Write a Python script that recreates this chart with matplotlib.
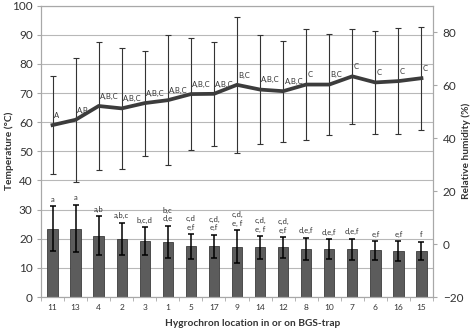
import matplotlib
matplotlib.use("Agg")
import matplotlib.pyplot as plt
import numpy as np

plt.rcParams['font.family'] = ['Lato', 'DejaVu Sans']

# hygrochron locations, ordered as in the figure
locations = ['11', '13', '4', '2', '3', '1', '5', '17', '9',
             '14', '12', '8', '10', '7', '6', '16', '15']

# temperature (bars, left axis)
temp_mean = [23.5, 23.5, 21.1, 19.9, 19.2, 19.0, 17.4, 17.4, 17.3,
             17.0, 17.0, 16.6, 16.4, 16.4, 16.0, 15.8, 15.8]
temp_sd = [7.7, 8.2, 6.7, 5.6, 4.8, 5.5, 4.2, 3.9, 5.6,
           3.9, 3.5, 3.8, 3.4, 3.6, 3.2, 3.4, 3.2]
temp_letters = ['a', 'a', 'a,b', 'a,b,c', 'b,c,d', 'b,c\nd,e', 'c,d\ne,f',
                'c,d,\ne,f', 'c,d,\ne, f', 'c,d,\ne, f', 'c,d,\ne,f',
                'd,e,f', 'd,e,f', 'd,e,f', 'e,f', 'e,f', 'f']

# relative humidity (line, right axis)
rh_mean = [44.9, 46.9, 52.1, 51.2, 53.2, 54.3, 56.6, 56.7, 60.1,
           58.3, 57.7, 60.2, 60.2, 63.3, 61.0, 61.5, 62.6]
rh_sd = [18.4, 23.4, 24.3, 22.8, 19.8, 24.5, 21.0, 19.6, 25.7,
         20.6, 19.1, 21.0, 19.1, 18.0, 19.3, 19.9, 19.5]
rh_letters = ['A', 'A,B', 'A,B,C', 'A,B,C', 'A,B,C', 'A,B,C', 'A,B,C',
              'A,B,C', 'B,C', 'A,B,C', 'A,B,C', 'C', 'B,C', 'C', 'C', 'C', 'C']

x = np.arange(len(locations))

fig, ax = plt.subplots(figsize=(4.74, 3.3), dpi=100)
fig.subplots_adjust(left=0.0865, right=0.9135, bottom=0.1, top=0.983)

gray_spine = '#a8a8a8'
txt = '#333333'

# bars
ax.bar(x, temp_mean, width=0.45, color='#5c5c5c', edgecolor='#3c3c3c',
       linewidth=0.6, zorder=2)
ax.errorbar(x, temp_mean, yerr=temp_sd, fmt='none', ecolor='black',
            elinewidth=1.1, capsize=2.5, capthick=1.1, zorder=3)
for xi, m, s, lab in zip(x, temp_mean, temp_sd, temp_letters):
    ax.annotate(lab, (xi, m + s), xytext=(0, 2.5), textcoords='offset points',
                ha='center', va='bottom', fontsize=5.5, color=txt,
                linespacing=1.25)

ax.set_xlim(-0.5, len(locations) - 0.5)
ax.set_ylim(0, 100)
ax.set_yticks(np.arange(0, 101, 10))
ax.yaxis.grid(True, color='#b8b8b8', linewidth=0.8, zorder=0)
ax.set_axisbelow(True)
ax.set_xticks(x)
ax.set_xticklabels(locations, fontsize=6, color=txt)
ax.set_xticks(np.arange(-0.5, len(locations), 1), minor=True)
ax.tick_params(axis='x', which='major', length=0, pad=5)
ax.tick_params(axis='x', which='minor', length=3, color=gray_spine)
ax.tick_params(axis='y', labelsize=8.5, labelcolor=txt, length=3,
               color=gray_spine, pad=3)
ax.set_ylabel('Temperature (°C)', fontsize=7.3, fontweight='bold', color=txt)
ax.yaxis.set_label_coords(-0.068, 0.5)
ax.set_xlabel('Hygrochron location in or on BGS-trap', fontsize=7.3,
              fontweight='bold', color=txt)
ax.xaxis.set_label_coords(0.54, -0.075)
for sp in ax.spines.values():
    sp.set_color(gray_spine)
    sp.set_linewidth(0.8)

# humidity line on the right axis
ax2 = ax.twinx()
ax2.errorbar(x, rh_mean, yerr=rh_sd, fmt='none', ecolor='#333333',
             elinewidth=0.8, capsize=2, capthick=0.8, zorder=3)
ax2.plot(x, rh_mean, color='#3c3c3c', linewidth=2.7, zorder=4,
         solid_joinstyle='miter')
for xi, m, lab in zip(x, rh_mean, rh_letters):
    ax2.annotate(lab, (xi, m), xytext=(1, 4.5), textcoords='offset points',
                 ha='left', va='bottom', fontsize=5.5, color=txt)
ax2.set_ylim(-20, 90)
ax2.set_yticks(np.arange(-20, 81, 20))
ax2.tick_params(axis='y', labelsize=8.5, labelcolor=txt, length=3,
                color=gray_spine, pad=4)
ax2.set_ylabel('Relative humidity (%)', fontsize=7.3, fontweight='bold',
               color=txt)
ax2.yaxis.set_label_coords(1.072, 0.5)
for sp in ax2.spines.values():
    sp.set_color(gray_spine)
    sp.set_linewidth(0.8)

fig.savefig('out.png', dpi=100)
